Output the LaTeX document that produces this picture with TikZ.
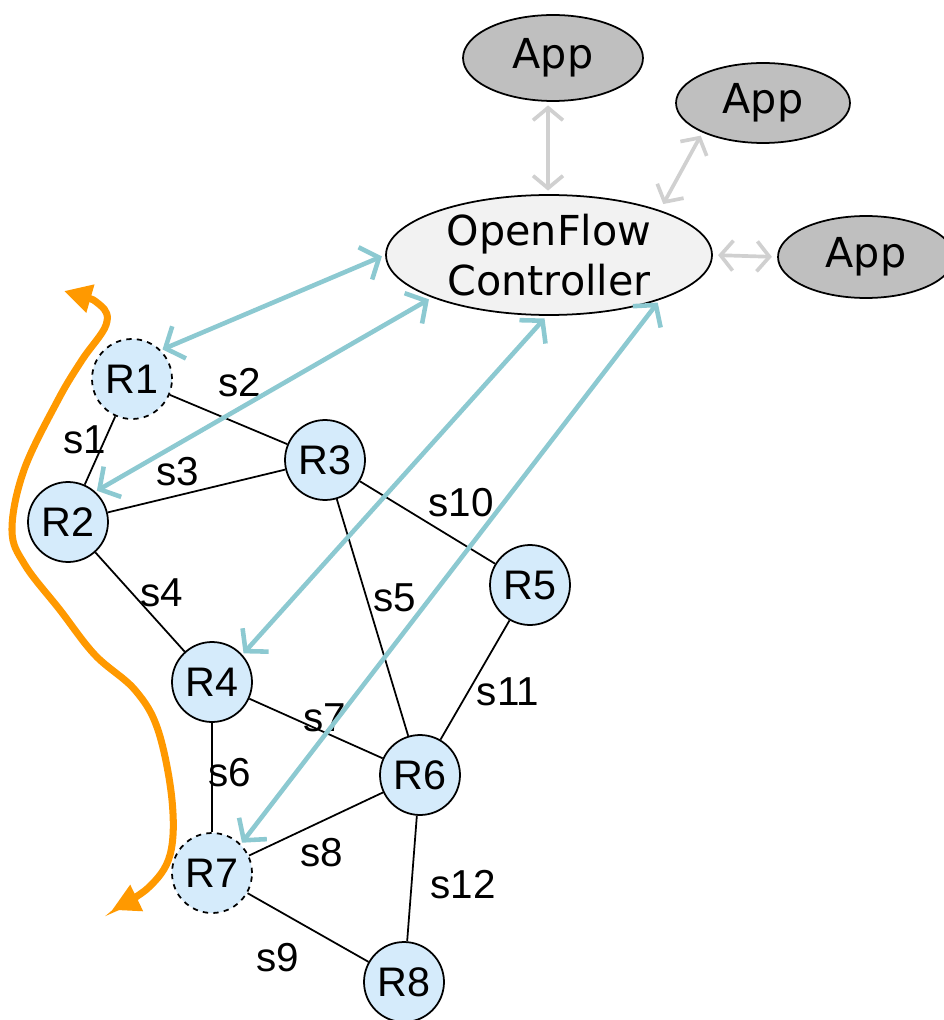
\documentclass[tikz,border=0pt]{standalone}
\usepackage{fontspec}
\setmainfont{Liberation Sans}
\newfontfamily\appfont{DejaVu Sans}
\usetikzlibrary{shapes.geometric, arrows.meta}

\definecolor{routerblue}{HTML}{D5EBFB}
\definecolor{ctlteal}{HTML}{8CC9D1}
\definecolor{appgray}{HTML}{BFBFBF}
\definecolor{ctlgray}{HTML}{F2F2F2}
\definecolor{apilink}{HTML}{D0D0D0}
\definecolor{pathorange}{HTML}{FF9900}

\begin{document}
\begin{tikzpicture}[x=0.02cm, y=-0.02cm,
  router/.style={circle, draw, line width=1pt, fill=routerblue, minimum size=1.6cm, inner sep=0pt, font=\fontsize{23.5}{26}\selectfont},
  app/.style={ellipse, draw, line width=1pt, fill=appgray, inner sep=0pt, font=\appfont\fontsize{23.5}{28.5}\selectfont},
  link/.style={line width=1pt},
  lbl/.style={inner sep=0pt, font=\fontsize{23}{26}\selectfont},
  ofctl/.style={{Straight Barb[length=3mm,width=7mm]}-{Straight Barb[length=3mm,width=7mm]}, line width=2.6pt, ctlteal, line cap=round, line join=round},
  api/.style={{Straight Barb[length=2.5mm,width=6mm]}-{Straight Barb[length=2.5mm,width=6mm]}, line width=2.1pt, apilink, line cap=round, line join=round}]

  \useasboundingbox (0,0) rectangle (943,1020);

  % Controller and apps
  \node[app, fill=ctlgray, minimum width=6.52cm, minimum height=2.4cm, align=center] (ctrl) at (549,255) {OpenFlow\\Controller};
  \node[app, minimum width=3.6cm, minimum height=1.72cm] (app1) at (553,58) {App};
  \node[app, minimum width=3.48cm, minimum height=1.6cm] (app2) at (763,103) {App};
  \node[app, minimum width=3.52cm, minimum height=1.64cm] (app3) at (866,257) {App};

  % Routers
  \node[router, dashed] (R1) at (132,379) {R1};
  \node[router] (R2) at (68,522) {R2};
  \node[router] (R3) at (325,460) {R3};
  \node[router] (R4) at (212,682) {R4};
  \node[router] (R5) at (530,585) {R5};
  \node[router] (R6) at (420,775) {R6};
  \node[router, dashed] (R7) at (212,873) {R7};
  \node[router] (R8) at (404,982) {R8};

  % Links
  \draw[link] (R1) -- (R2);
  \draw[link] (R1) -- (R3);
  \draw[link] (R2) -- (R3);
  \draw[link] (R2) -- (R4);
  \draw[link] (R3) -- (R6);
  \draw[link] (R4) -- (R7);
  \draw[link] (R4) -- (R6);
  \draw[link] (R7) -- (R6);
  \draw[link] (R7) -- (R8);
  \draw[link] (R3) -- (R5);
  \draw[link] (R5) -- (R6);
  \draw[link] (R6) -- (R8);

  % Link labels
  \node[lbl] (s1) at (85,440) {s1};
  \node[lbl] (s2) at (240,383) {s2};
  \node[lbl] (s3) at (178,472) {s3};
  \node[lbl] (s4) at (162,593) {s4};
  \node[lbl] (s5) at (395,598) {s5};
  \node[lbl] (s6) at (230,773) {s6};
  \node[lbl] (s7) at (325,718) {s7};
  \node[lbl] (s8) at (322,853) {s8};
  \node[lbl] (s9) at (278,958) {s9};
  \node[lbl] (s10) at (461,503) {s10};
  \node[lbl] (s11) at (508,692) {s11};
  \node[lbl] (s12) at (463,885) {s12};

  % Controller channels
  \draw[ofctl, shorten <=1pt, shorten >=2pt] (R1.45) -- (ctrl.west);
  \draw[ofctl, shorten <=1pt, shorten >=2pt] (R2.48) -- (ctrl.-160);
  \draw[ofctl, shorten <=1pt, shorten >=2pt] (R4.42) -- (ctrl.-92);
  \draw[ofctl, shorten <=1pt, shorten >=2pt] (R7.45) -- (ctrl.-22);

  % App interfaces
  \draw[api, shorten <=2pt, shorten >=2pt] (app1.south -| 548,0) -- (ctrl.north -| 548,0);
  \draw[api, shorten <=2pt, shorten >=4pt] (app2.-154) -- (ctrl.22);
  \draw[api, shorten <=3pt, shorten >=3pt] (app3.west) -- (ctrl.east);

  % Path
  \draw[pathorange, line width=4pt, line cap=round, {Triangle[length=5.5mm,width=5.5mm]}-{Triangle[length=5.5mm,width=5.5mm]}]
    plot[smooth, tension=0.6] coordinates {(64,291) (100,305) (106,325) (82,360) (58,400) (24,470) (12,530) (25,565) (60,610) (95,655) (135,690) (158,730) (172,800) (170,855) (148,888) (112,910)};

\end{tikzpicture}
\end{document}
